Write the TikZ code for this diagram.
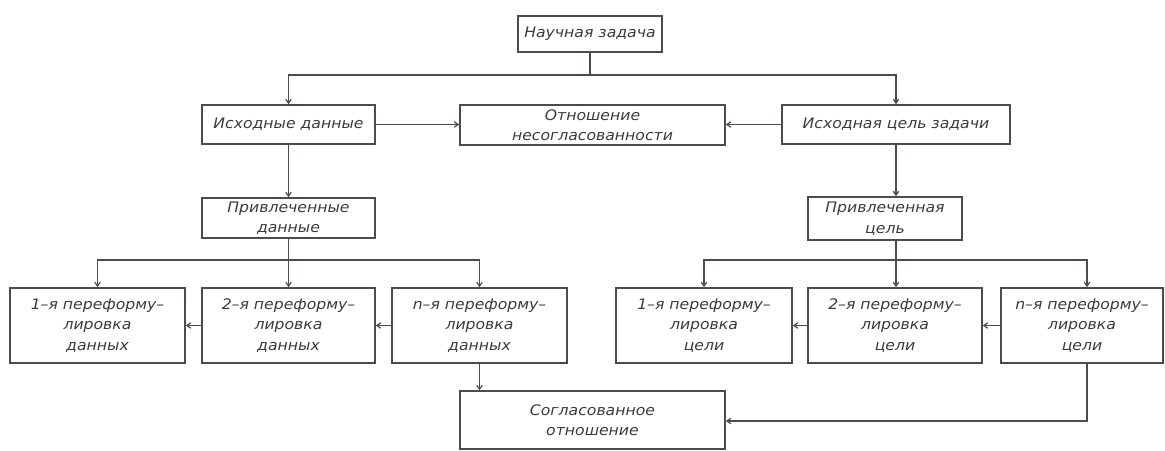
\documentclass[tikz,border=0pt]{standalone}
\usepackage{fontspec}
\newfontfamily\gost{DejaVu Sans}[FakeStretch=1.08]
\usetikzlibrary{arrows.meta}
\definecolor{ln}{HTML}{4E4A50}
\definecolor{tx}{HTML}{3C3A3E}
\tikzset{
  box/.style={draw=ln, line width=1.6pt, rectangle, inner sep=0pt, align=center,
    font=\gost\itshape\fontsize{14.5}{20.5}\selectfont, text=tx},
  wire/.style={draw=ln, line width=1.6pt},
  arr/.style={wire, -{Straight Barb[length=4pt,width=5.5pt,line width=1.2pt]}},
}
\begin{document}
\begin{tikzpicture}[x=1pt,y=-1pt]
\useasboundingbox (0,0) rectangle (1165,450);
\fill[white] (0,0) rectangle (1165,450);
% nodes
\node[box, minimum width=144, minimum height=36] (top) at (590,34) {Научная задача};
\node[box, minimum width=173, minimum height=39] (isd) at (288.5,124.5) {Исходные данные};
\node[box, minimum width=265, minimum height=40] (otn) at (592.5,125) {Отношение\\несогласованности};
\node[box, minimum width=228, minimum height=39] (isc) at (896,124.5) {Исходная цель задачи};
\node[box, minimum width=173, minimum height=40] (prd) at (288.5,218) {Привлеченные\\данные};
\node[box, minimum width=154, minimum height=43] (prc) at (885,218.5) {Привлеченная\\цель};
\node[box, minimum width=175, minimum height=75] (l1) at (97.5,325.5) {1–я переформу–\\лировка\\данных};
\node[box, minimum width=173, minimum height=75] (l2) at (288.5,325.5) {2–я переформу–\\лировка\\данных};
\node[box, minimum width=175, minimum height=75] (l3) at (479.5,325.5) {n–я переформу–\\лировка\\данных};
\node[box, minimum width=176, minimum height=75] (r1) at (704,325.5) {1–я переформу–\\лировка\\цели};
\node[box, minimum width=174, minimum height=75] (r2) at (895,325.5) {2–я переформу–\\лировка\\цели};
\node[box, minimum width=162, minimum height=75] (r3) at (1082,325.5) {n–я переформу–\\лировка\\цели};
\node[box, minimum width=265, minimum height=58] (sog) at (592.5,420) {Согласованное\\отношение};
% bus coordinates
\coordinate (b1) at (0,75);
\coordinate (b2) at (0,260);
\coordinate (cx) at (896,0);
\coordinate (r3x) at (1087,0);
\coordinate (turn) at (1087,421);
% top level
\draw[arr] (top.south) -- (top.south |- b1) -| (isd.north);
\draw[arr] (top.south |- b1) -| (isc.north);
\draw[arr] (isd.east) -- (otn.west |- isd.east);
\draw[arr] (isc.west) -- (otn.east |- isc.west);
% left branch
\draw[arr] (isd.south) -- (prd.north);
\draw[arr] (prd.south) -- (prd.south |- b2) -| (l1.north);
\draw[arr] (prd.south |- b2) -- (l2.north);
\draw[arr] (prd.south |- b2) -| (l3.north);
\draw[arr] (l2.west) -- (l1.east);
\draw[arr] (l3.west) -- (l2.east);
\draw[arr] (l3.south) -- (sog.north -| l3.south);
% right branch
\draw[arr] (isc.south) -- (prc.north -| cx);
\draw[wire] (prc.south -| cx) -- (cx |- b2);
\draw[arr] (cx |- b2) -| (r1.north);
\draw[arr] (cx |- b2) -- (r2.north -| cx);
\draw[arr] (cx |- b2) -| (r3.north -| r3x);
\draw[arr] (r2.west) -- (r1.east);
\draw[arr] (r3.west) -- (r2.east);
\draw[arr] (r3.south -| r3x) -- (turn) -- (sog.east |- turn);
\end{tikzpicture}
\end{document}
